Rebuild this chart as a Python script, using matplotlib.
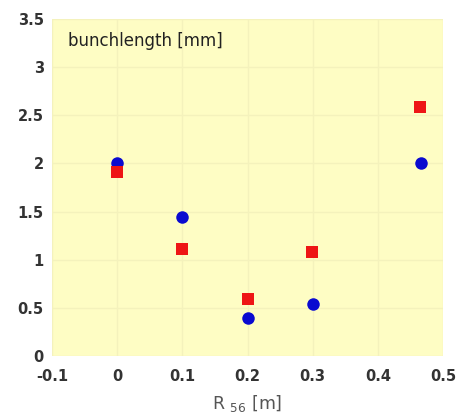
import matplotlib
matplotlib.use("Agg")
import matplotlib.pyplot as plt

# R56 settings [m] and measured bunch length [mm]
r56_blue = [0.0, 0.1, 0.2, 0.3, 0.466]
len_blue = [2.0, 1.44, 0.40, 0.54, 2.0]
r56_red = [0.0, 0.1, 0.2, 0.299, 0.464]
len_red = [1.91, 1.11, 0.59, 1.08, 2.58]

xticks = [-0.1, 0, 0.1, 0.2, 0.3, 0.4, 0.5]
yticks = [0, 0.5, 1, 1.5, 2, 2.5, 3, 3.5]

plt.rcParams['font.family'] = ['DejaVu Sans']

fig = plt.figure(figsize=(4.61, 4.18), dpi=100)
ax = fig.add_axes([0.113, 0.148, 0.848, 0.807])
ax.set_facecolor('#fefdc4')

ax.plot(r56_blue, len_blue, 'o', color='#0a0ad0', markersize=9, markeredgewidth=0)
ax.plot(r56_red, len_red, 's', color='#ee1515', markersize=8.5, markeredgewidth=0)

ax.set_xlim(-0.1, 0.5)
ax.set_ylim(0, 3.5)
ax.set_xticks(xticks)
ax.set_xticklabels(['-0.1', '0', '0.1', '0.2', '0.3', '0.4', '0.5'])
ax.set_yticks(yticks)
ax.set_yticklabels(['0', '0.5', '1', '1.5', '2', '2.5', '3', '3.5'])
ax.grid(True, color='#f4f2bc', linewidth=1.0)
ax.set_axisbelow(True)
for s in ax.spines.values():
    s.set_visible(False)
ax.tick_params(length=0, labelsize=10.5, labelcolor='#333333')
ax.tick_params(axis='x', pad=9)
ax.tick_params(axis='y', pad=6)
for lbl in ax.get_xticklabels() + ax.get_yticklabels():
    lbl.set_fontweight('bold')

ax.text(0.04, 0.935, 'bunchlength [mm]', transform=ax.transAxes, fontsize=12,
        color='#222222', va='center', ha='left')
ax.set_xlabel(r'R $_{56}$ [m]', fontsize=12.5, color='#555555', labelpad=7)

plt.savefig('out.png', dpi=100)
